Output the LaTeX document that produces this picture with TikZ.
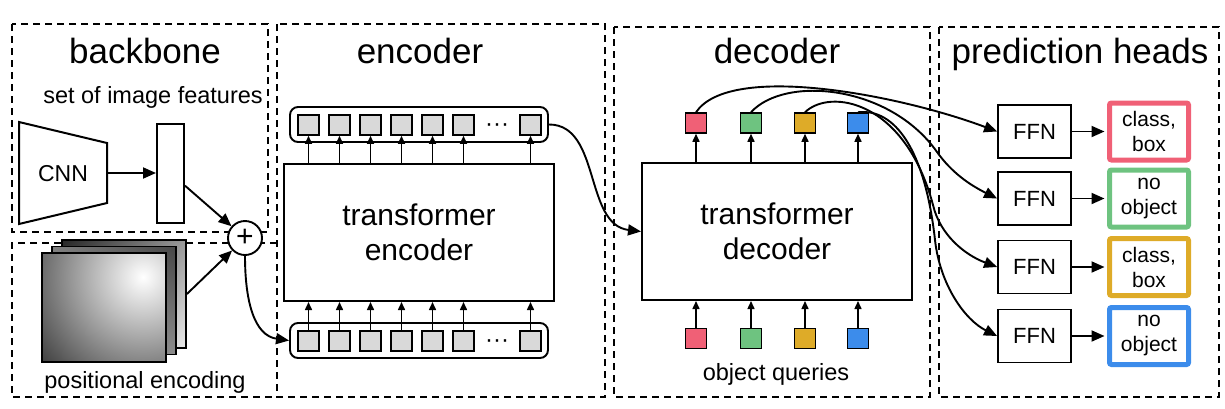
\documentclass[tikz,border=0pt]{standalone}
\usepackage{fontspec}
\setmainfont{Liberation Sans}
\usetikzlibrary{arrows.meta,calc,shadings}
\definecolor{tokgray}{RGB}{217,217,217}
\definecolor{qred}{RGB}{240,96,118}
\definecolor{qgreen}{RGB}{110,195,128}
\definecolor{qgold}{RGB}{222,171,40}
\definecolor{qblue}{RGB}{60,140,235}
\begin{document}
\begin{tikzpicture}[x=1pt,y=-1pt,
  dbox/.style={draw, dash pattern=on 7pt off 5pt, line width=1.8pt},
  title/.style={anchor=base, font=\fontsize{35}{42}\selectfont, inner sep=0pt},
  lab/.style={anchor=base, font=\fontsize{23.5}{28}\selectfont, inner sep=0pt},
  tok/.style={draw, line width=1.5pt, fill=tokgray, minimum width=21pt, minimum height=20pt, inner sep=0pt},
  tokrow/.style={draw, line width=1.9pt, rounded corners=8pt, minimum width=258pt, minimum height=35pt, inner sep=0pt},
  big/.style={draw, line width=2pt, fill=white, minimum width=270pt, minimum height=137pt, align=center, font=\fontsize{30}{35}\selectfont, inner sep=0pt},
  arr/.style={-{Triangle[length=13pt,width=11pt]}, line width=1.9pt},
  sarr/.style={-{Triangle[length=8pt,width=7pt]}, line width=1.5pt},
  ffn/.style={draw, line width=1.8pt, minimum width=73pt, minimum height=53pt, inner sep=0pt, font=\fontsize{22}{26}\selectfont},
  outb/.style={draw=#1, line width=5pt, rounded corners=2pt, minimum width=79pt, minimum height=57pt, align=center, inner sep=0pt, font=\fontsize{21}{25}\selectfont},
  qsq/.style={draw, line width=1.5pt, fill=#1, minimum width=21pt, minimum height=20pt, inner sep=0pt},
  pesq/.style={draw, line width=1.8pt, minimum width=124pt, minimum height=108pt, inner sep=0pt},
  dots/.style={anchor=base, font=\fontsize{24}{28}\selectfont, inner sep=0pt}
]
\useasboundingbox (0,0) rectangle (1225,408);

% dashed group boxes
\draw[dbox] (12,24) rectangle (268,232);
\draw[dbox] (277,243) -- (12,243) -- (12,397) -- (277,397);
\draw[dbox] (277,24) rectangle (605,397);
\draw[dbox] (614,27) rectangle (930,397);
\draw[dbox] (939,27) rectangle (1219,397);

% titles
\node[title] (tback) at (145,63) {backbone};
\node[title] (tenc) at (420,63) {encoder};
\node[title] (tdec) at (777,63) {decoder};
\node[title] (thead) at (1080,63) {prediction heads};
\node[lab] (tfeat) at (153,103) {set of image features};
\node[lab] (tpos) at (145,388) {positional encoding};
\node[lab] (tquer) at (776,380) {object queries};

% backbone
\draw[line width=2pt] (19,122) -- (107,143) -- (107,203) -- (19,224) -- cycle;
\node[font=\fontsize{23}{28}\selectfont] (cnn) at (63,174) {CNN};
\coordinate (cnnout) at (107,173);
\node[draw, line width=2pt, minimum width=27pt, minimum height=99pt, inner sep=0pt] (feat) at (170.5,173.5) {};
\draw[arr] (cnnout) -- (feat.west |- cnnout);

% positional encoding
\node[pesq, upper left=black!85, upper right=black!40, lower left=black!50, lower right=black!8] (peback) at (124,294) {};
\node[pesq, upper left=black!50, upper right=black!72, lower left=black!40, lower right=black!45] (pemid) at (114,300.5) {};
\node[pesq, minimum height=109pt, fill=black!85, path picture={
  \shade[inner color=white, outer color=black!85] ($(path picture bounding box.north east)+(-23,24)$) circle (150);
}] (pefront) at (104,307.5) {};

% plus
\node[draw, circle, line width=1.9pt, fill=white, minimum size=34pt, inner sep=0pt, font=\fontsize{30}{30}\selectfont] (plus) at (245,238) {+};
\draw[arr] (feat.-40) -- (plus);
\draw[arr] (peback.east) -- (plus);

% encoder
\node[tokrow] (etrow) at (419,124.5) {};
\node[tokrow] (ebrow) at (419,340.5) {};
\node[big] (enc) at (419,232.5) {transformer\\encoder};
\foreach \i/\x in {1/308.5,2/339.5,3/370.5,4/401.5,5/432.5,6/463.5,7/530.5}{
  \node[tok] (et\i) at (\x,125) {};
  \node[tok] (eb\i) at (\x,341) {};
  \draw[sarr] (enc.north -| et\i) -- (et\i.south);
  \draw[sarr] (eb\i.north) -- (enc.south -| eb\i);
}
\node[dots] (etd) at (497,131) {···};
\node[dots] (ebd) at (497,347) {···};
\draw[arr] (plus.south) .. controls +(0,45) and +(-35,-5) .. (ebrow.west);

% decoder
\node[big] (dec) at (777,231.5) {transformer\\decoder};
\draw[arr] (etrow.east) .. controls +(52,0) and +(-57,-7) .. (dec.west);
\foreach \i/\x/\c in {1/696/qred,2/751/qgreen,3/805/qgold,4/858/qblue}{
  \node[qsq=\c] (dt\i) at (\x,123) {};
  \node[qsq=\c] (dq\i) at (\x,338.5) {};
  \draw[sarr] (dec.north -| dt\i) -- (dt\i.south);
  \draw[sarr] (dq\i.north) -- (dec.south -| dq\i);
}

% prediction heads
\foreach \i/\y/\c/\t in {1/131.5/qred/{class,\\box},2/198.5/qgreen/{no\\object},3/267/qgold/{class,\\box},4/336/qblue/{no\\object}}{
  \node[ffn] (ffn\i) at (1034.5,\y) {FFN};
  \node[outb=\c] (out\i) at (1149,\y) {\t};
  \draw[arr, shorten >=2.5pt] (ffn\i.east) -- (out\i.west);
}
\coordinate (g2) at (937,152);
\coordinate (g3) at (933,205);
\coordinate (g4) at (935,240);
\draw[arr] (dt1.north) .. controls (730,62) and (900,95) .. (ffn1.west);
\draw[arr] (dt2.north) .. controls (785,75) and (890,85) .. (g2) .. controls (952,173) and (970,185) .. (ffn2.west);
\draw[arr] (dt3.north) .. controls (830,88) and (905,100) .. (g3) .. controls (940,235) and (965,255) .. (ffn3.west);
\draw[arr] (dt4.north) .. controls (895,108) and (925,150) .. (g4) .. controls (940,285) and (965,320) .. (ffn4.west);
\end{tikzpicture}
\end{document}
